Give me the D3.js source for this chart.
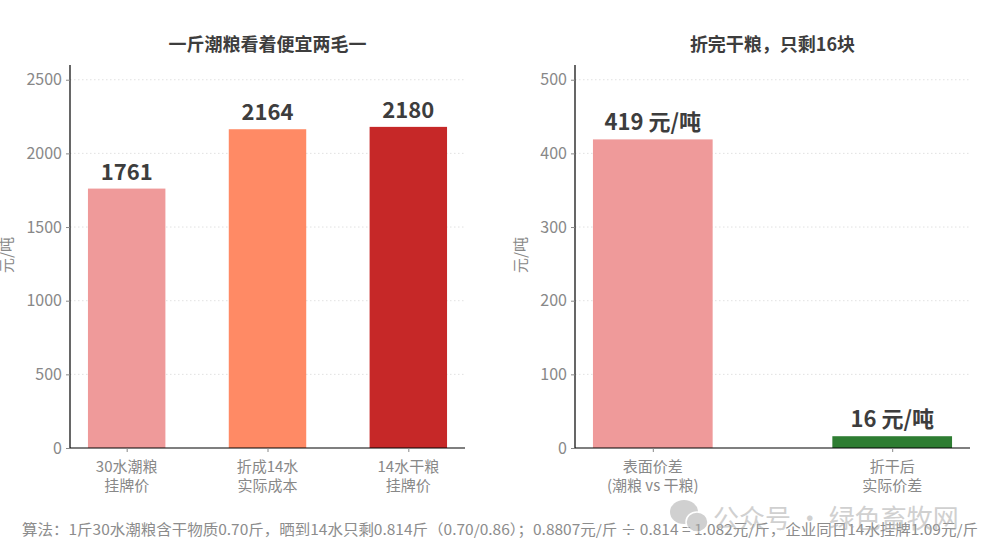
<!DOCTYPE html>
<html>
<head>
<meta charset="utf-8">
<script src="https://cdn.jsdelivr.net/npm/d3@7"></script>
<style>
  body { margin: 0; background: #fff; }
  svg { display: block; font-family: "Noto Sans CJK SC", "Noto Sans", sans-serif; }
</style>
</head>
<body>
<div id="vis"></div>
<script>
// left panel data
let leftCats = [['30水潮粮', '挂牌价'], ['折成14水', '实际成本'], ['14水干粮', '挂牌价']];
let leftValues = [1761, 2164, 2180];
let leftLabels = ['1761', '2164', '2180'];
let leftColors = ['#ef9a9a', '#ff8a65', '#c62828'];
let leftTicks = [0, 500, 1000, 1500, 2000, 2500];

// right panel data
let rightCats = [['表面价差', '(潮粮 vs 干粮)'], ['折干后', '实际价差']];
let rightValues = [419, 16];
let rightLabels = ['419 元/吨', '16 元/吨'];
let rightColors = ['#ef9a9a', '#2e7d32'];
let rightTicks = [0, 100, 200, 300, 400, 500];

let note = '算法：1斤30水潮粮含干物质0.70斤，晒到14水只剩0.814斤（0.70/0.86）；0.8807元/斤 ÷ 0.814 = 1.082元/斤，企业同日14水挂牌1.09元/斤';

let W = 1000, H = 560;
let svg = d3.select('#vis').append('svg')
  .attr('width', W)
  .attr('height', H);

function panel(opt) {
  let n = opt.values.length;
  // matplotlib-like margins around the bars
  let half = opt.barWidth / 2;
  let span = (n - 1) + opt.barWidth;
  let x = d3.scaleLinear()
    .domain([-half - span * 0.05, n - 1 + half + span * 0.05])
    .range([opt.left, opt.right]);
  let y = d3.scaleLinear()
    .domain([0, opt.ymax])
    .range([448, 65]);

  let g = svg.append('g');

  // grid
  g.selectAll('.grid').data(opt.ticks.slice(1)).enter().append('line')
    .attr('x1', opt.left).attr('x2', opt.right)
    .attr('y1', d => y(d)).attr('y2', d => y(d))
    .attr('stroke', '#d9d9d9')
    .attr('stroke-width', 0.8)
    .attr('stroke-dasharray', '1.5,2.5');

  // bars
  g.selectAll('.bar').data(opt.values).enter().append('rect')
    .attr('x', (d, i) => x(i - half))
    .attr('width', (d, i) => x(i + half) - x(i - half))
    .attr('y', d => y(d))
    .attr('height', d => y(0) - y(d))
    .attr('fill', (d, i) => opt.colors[i]);

  // value labels
  g.selectAll('.val').data(opt.values).enter().append('text')
    .attr('x', (d, i) => x(i))
    .attr('y', d => y(d) - 9)
    .attr('text-anchor', 'middle')
    .attr('font-size', 22)
    .attr('font-weight', 'bold')
    .attr('fill', '#3d3d3d')
    .text((d, i) => opt.labels[i]);

  // y axis
  let yAxis = g.append('g')
    .attr('transform', 'translate(' + opt.left + ',0)')
    .call(d3.axisLeft(y).tickValues(opt.ticks).tickFormat(d3.format('d')).tickSize(4).tickPadding(4));
  yAxis.select('.domain').attr('stroke', '#000').attr('stroke-width', 1.2)
    .attr('d', 'M0,' + y(opt.ymax) + 'V' + y(0));
  yAxis.selectAll('.tick line').attr('stroke', '#888');
  yAxis.selectAll('.tick text').attr('fill', '#888').attr('font-size', 16)
    .attr('font-family', '"Noto Sans CJK SC", sans-serif');

  // x axis
  let xAxis = g.append('g')
    .attr('transform', 'translate(0,' + y(0) + ')')
    .call(d3.axisBottom(x).tickValues(d3.range(n)).tickSize(4).tickFormat(''));
  xAxis.select('.domain').attr('stroke', '#000').attr('stroke-width', 1.2)
    .attr('d', 'M' + opt.left + ',0H' + opt.right);
  xAxis.selectAll('.tick line').attr('stroke', '#888');

  // category labels (two lines)
  let cat = g.selectAll('.cat').data(opt.cats).enter().append('text')
    .attr('text-anchor', 'middle')
    .attr('font-size', 15)
    .attr('fill', '#888');
  cat.each(function(d, i) {
    d3.select(this).selectAll('tspan').data(d).enter().append('tspan')
      .attr('x', x(i))
      .attr('y', (t, j) => 472 + j * 19)
      .text(t => t);
  });

  // y label
  g.append('text')
    .attr('transform', 'translate(' + opt.ylabelX + ',' + 255 + ') rotate(-90)')
    .attr('text-anchor', 'middle')
    .attr('font-size', 15)
    .attr('fill', '#888')
    .text('元/吨');

  // title
  g.append('text')
    .attr('x', (opt.left + opt.right) / 2)
    .attr('y', 51)
    .attr('text-anchor', 'middle')
    .attr('font-size', 18)
    .attr('font-weight', 'bold')
    .attr('fill', '#3d3d3d')
    .text(opt.title);
}

panel({
  left: 70, right: 465, ymax: 2600, barWidth: 0.55,
  values: leftValues, labels: leftLabels, colors: leftColors,
  cats: leftCats, ticks: leftTicks, ylabelX: 12,
  title: '一斤潮粮看着便宜两毛一'
});

panel({
  left: 575, right: 970, ymax: 520, barWidth: 0.5,
  values: rightValues, labels: rightLabels, colors: rightColors,
  cats: rightCats, ticks: rightTicks, ylabelX: 526,
  title: '折完干粮，只剩16块'
});

// footnote
svg.append('text')
  .attr('x', 22)
  .attr('y', 535)
  .attr('font-size', 14.5)
  .attr('fill', '#8c8c8c')
  .attr('textLength', 956)
  .attr('lengthAdjust', 'spacingAndGlyphs')
  .text(note);

// watermark
let wm = svg.append('g').attr('opacity', 0.55);
wm.append('ellipse').attr('cx', 684).attr('cy', 512).attr('rx', 14).attr('ry', 12).attr('fill', '#aaa');
wm.append('ellipse').attr('cx', 697).attr('cy', 522).attr('rx', 11).attr('ry', 10).attr('fill', '#aaa')
  .attr('stroke', '#fff').attr('stroke-width', 1.5);
wm.append('text')
  .attr('x', 713)
  .attr('y', 528)
  .attr('font-size', 26)
  .attr('fill', '#aaa')
  .text('公众号 · 绿色畜牧网');
</script>
</body>
</html>
